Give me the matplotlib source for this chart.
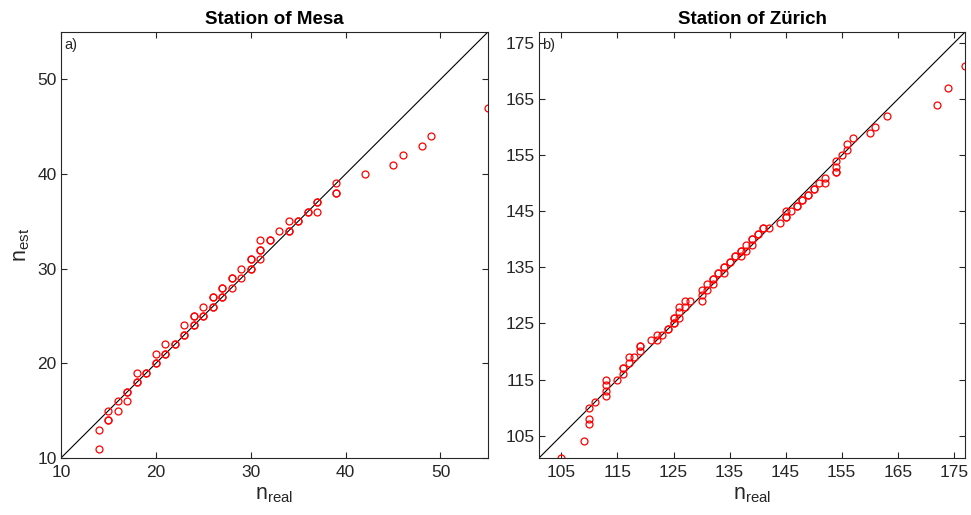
import numpy as np
import matplotlib.pyplot as plt

plt.rcParams['font.family'] = ['Liberation Sans', 'DejaVu Sans']
plt.rcParams['mathtext.fontset'] = 'custom'
plt.rcParams['mathtext.rm'] = 'Liberation Sans'
plt.rcParams['mathtext.it'] = 'Liberation Sans:italic'

# Mesa station: real vs estimated counts (repeated pairs listed twice)
mesa_real = [14, 14, 15, 15, 15, 16, 16, 17, 17, 17, 18, 18, 18, 19, 19, 20, 20, 20,
             21, 21, 21, 22, 22, 23, 23, 23, 24, 24, 24, 24, 25, 25, 25, 26, 26, 26,
             26, 27, 27, 27, 27, 28, 28, 28, 29, 29, 30, 30, 30, 30, 31, 31, 31, 31,
             32, 32, 33, 34, 34, 34, 35, 35, 36, 36, 37, 37, 37, 39, 39, 39, 42, 45,
             46, 48, 49, 55]
mesa_est = [11, 13, 14, 14, 15, 15, 16, 16, 17, 17, 18, 18, 19, 19, 19, 20, 20, 21,
            21, 21, 22, 22, 22, 23, 23, 24, 24, 24, 25, 25, 25, 25, 26, 26, 26, 27,
            27, 27, 27, 28, 28, 28, 29, 29, 29, 30, 30, 30, 31, 31, 31, 32, 32, 33,
            33, 33, 34, 34, 34, 35, 35, 35, 36, 36, 36, 37, 37, 38, 38, 39, 40, 41,
            42, 43, 44, 47]

# Zürich station
zur_real = [105, 109, 110, 110, 110, 111, 113, 113, 113, 113, 115, 116, 116, 116, 117,
            117, 118, 119, 119, 119, 121, 122, 122, 123, 124, 124, 125, 125, 125, 125,
            126, 126, 126, 127, 127, 128, 130, 130, 130, 131, 131, 132, 132, 132, 133,
            133, 134, 134, 134, 135, 135, 136, 136, 137, 137, 137, 138, 138, 139, 139,
            139, 140, 140, 141, 141, 142, 144, 145, 145, 145, 146, 147, 147, 148, 148,
            149, 149, 150, 150, 151, 152, 152, 154, 154, 154, 154, 155, 156, 156, 157,
            160, 161, 163, 172, 174, 177]
zur_est = [101, 104, 107, 108, 110, 111, 112, 113, 114, 115, 115, 116, 117, 117, 118,
           119, 119, 120, 121, 121, 122, 122, 123, 123, 124, 124, 125, 125, 126, 126,
           126, 127, 128, 128, 129, 129, 129, 130, 131, 131, 132, 132, 133, 133, 134,
           134, 134, 135, 135, 136, 136, 137, 137, 137, 138, 138, 138, 139, 139, 140,
           140, 141, 141, 142, 142, 142, 143, 144, 144, 145, 145, 146, 146, 147, 147,
           148, 148, 149, 149, 150, 150, 151, 152, 152, 153, 154, 155, 156, 157, 158,
           159, 160, 162, 164, 167, 171]

mesa_ticks = [10, 20, 30, 40, 50]
zur_ticks = [105, 115, 125, 135, 145, 155, 165, 175]

fig = plt.figure(figsize=(9.71, 5.15), dpi=100)
ax1 = fig.add_axes([0.0628, 0.1107, 0.4397, 0.8272])
ax2 = fig.add_axes([0.5551, 0.1107, 0.4388, 0.8272])

panels = [
    (ax1, mesa_real, mesa_est, (10, 55), mesa_ticks, 'Station of Mesa', 'a)'),
    (ax2, zur_real, zur_est, (101, 177), zur_ticks, 'Station of Zürich', 'b)'),
]

for ax, xr, ye, lim, ticks, title, tag in panels:
    ax.plot(lim, lim, color='black', lw=0.8, zorder=1)
    ax.plot(xr, ye, 'o', mfc='none', mec='red', ms=5, mew=0.9, zorder=2)
    ax.set_xlim(lim)
    ax.set_ylim(lim)
    ax.set_xticks(ticks)
    ax.set_yticks(ticks)
    ax.tick_params(direction='in', top=True, right=True, length=4,
                   width=0.8, color='#262626', labelsize=12.5,
                   labelcolor='#262626')
    ax.tick_params(axis='x', pad=5)
    ax.tick_params(axis='y', pad=3)
    for s in ax.spines.values():
        s.set_color('#262626')
        s.set_linewidth(0.8)
    ax.set_title(title, fontsize=13.5, fontweight='bold', pad=6)
    ax.set_xlabel(r'n$_{\rm real}$', fontsize=15.5, color='#262626', labelpad=3)
    ax.text(0.008, 0.985, tag, transform=ax.transAxes, ha='left', va='top',
            fontsize=10.5, color='#262626')

ax1.set_ylabel(r'n$_{\rm est}$', fontsize=15.5, color='#262626', labelpad=4)

fig.savefig('out.png', dpi=100)
